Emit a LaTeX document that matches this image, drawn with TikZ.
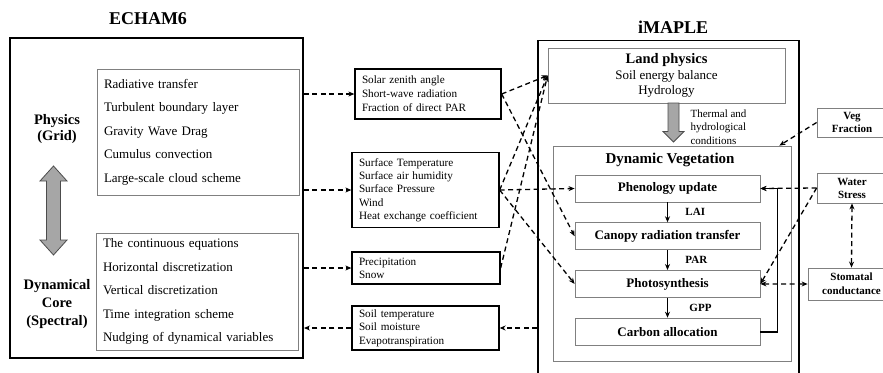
\documentclass[tikz,border=0pt]{standalone}
\usepackage{fontspec}
\setmainfont{Liberation Serif}
\usetikzlibrary{arrows.meta}

\begin{document}
\begin{tikzpicture}[x=1pt, y=-1pt, node distance=47.7pt,
	>={Stealth[length=6pt,width=5pt]},
	graybox/.style={rectangle, draw=black!50, line width=0.8pt, inner sep=0pt},
	blackbox/.style={rectangle, draw=black, line width=1.3pt, inner xsep=7pt, inner ysep=0pt},
	dashline/.style={dashed, dash pattern=on 5pt off 3.5pt, line width=1.3pt},
	bigarrow/.style={draw=black!70, fill=black!35, line width=0.8pt},
	title/.style={font=\fontsize{18}{20}\selectfont\bfseries}]
				\path [use as bounding box] (0,0) rectangle (883,372);
				\clip (0,0) rectangle (883,372);
				\node (t0) at (148,19) [title] {ECHAM6};
				\node (n0) at (156.5,198) [rectangle, draw=black, line width=1.9pt,
				minimum width=293pt, minimum height=320pt] {};
				\node (n1) at (198,132) [graybox, minimum width=202pt,
				minimum height=126pt, text width=188pt, align=left,
				font=\fontsize{13}{23.5}\selectfont] {Radiative transfer\\Turbulent
				boundary layer\\Gravity Wave Drag\\Cumulus convection\\Large-scale
				cloud scheme};
				\node (n2) at (57,129) [align=center,
				font=\fontsize{14.5}{16}\selectfont\bfseries] {Physics\\(Grid)};
				\node (n3) at (197,291.5) [graybox, minimum width=202pt,
				minimum height=117pt, text width=188pt, align=left,
				font=\fontsize{13}{23.5}\selectfont] {The continuous
				equations\\Horizontal discretization\\Vertical
				discretization\\Time integration scheme\\Nudging of dynamical
				variables};
				\node (n4) at (57,304) [align=center,
				font=\fontsize{14.5}{18}\selectfont\bfseries]
				{Dynamical\\Core\\(Spectral)};
				\draw [bigarrow] (53.5,166) -- (67,181) -- (60.5,181) -- (60.5,240)
				-- (67,240) -- (53.5,255) -- (40,240) -- (46.5,240) -- (46.5,181)
				-- (40,181) -- cycle;

				\node (n5) at (428,94) [blackbox, minimum width=146pt,
				minimum height=50pt, text width=132pt, align=left,
				font=\fontsize{11.2}{14}\selectfont] {Solar zenith angle\\Short-wave
				radiation\\Fraction of direct PAR};
				\node (n6) at (425.5,190) [blackbox, minimum width=147pt,
				minimum height=75pt, text width=133pt, align=left,
				font=\fontsize{11.2}{13.3}\selectfont] {Surface Temperature\\Surface
				air humidity\\Surface Pressure\\Wind\\Heat exchange coefficient};
				\node (n7) at (426,268) [blackbox, minimum width=148pt,
				minimum height=32pt, text width=134pt, align=left,
				font=\fontsize{11.2}{13.3}\selectfont] {Precipitation\\Snow};
				\node (n8) at (425.5,328) [blackbox, minimum width=147pt,
				minimum height=44pt, text width=133pt, align=left,
				font=\fontsize{11.2}{13.5}\selectfont] {Soil temperature\\Soil
				moisture\\Evapotranspiration};

				\node (t1) at (673,27) [title] {iMAPLE};
				\node (n9) at (668.5,215) [rectangle, draw=black, line width=1.9pt,
				minimum width=261pt, minimum height=349pt] {};
				\node (n10) at (666.5,75.5) [graybox, minimum width=237pt,
				minimum height=55pt, align=center,
				font=\fontsize{13}{15.5}\selectfont] {{\fontsize{14.5}{16}\selectfont
				\bfseries Land physics}\\Soil energy balance\\Hydrology};
				\draw [bigarrow] (668,103) -- (679,103) -- (679,131.5) -- (684,131.5)
				-- (673.5,142) -- (663,131.5) -- (668,131.5) -- cycle;
				\node (n11) at (687,127) [anchor=west, align=left,
				font=\fontsize{11}{13.5}\selectfont] {Thermal and\\hydrological\\
				conditions};
				\node (n12) at (672,253.5) [graybox, minimum width=238pt,
				minimum height=215pt] {};
				\node (n13) at (670,160) [font=\fontsize{15}{17}\selectfont\bfseries]
				{Dynamic Vegetation};
				\node (n14) at (667.5,188.5) [graybox, minimum width=185pt,
				minimum height=27pt, font=\fontsize{13}{15}\selectfont\bfseries]
				{Phenology update};
				\node (n15) [graybox, minimum width=185pt, minimum height=27pt,
				font=\fontsize{13}{15}\selectfont\bfseries, below of=n14]
				{Canopy radiation transfer};
				\node (n16) [graybox, minimum width=185pt, minimum height=27pt,
				font=\fontsize{13}{15}\selectfont\bfseries, below of=n15]
				{Photosynthesis};
				\node (n17) [graybox, minimum width=185pt, minimum height=27pt,
				font=\fontsize{13}{15}\selectfont\bfseries, below of=n16]
				{Carbon allocation};
				\draw [->, line width=1.3pt] (n14) -- (n15) node [midway, right=14pt,
				font=\fontsize{11}{13}\selectfont\bfseries] {LAI};
				\draw [->, line width=1.3pt] (n15) -- (n16) node [midway, right=14pt,
				font=\fontsize{11}{13}\selectfont\bfseries] {PAR};
				\draw [->, line width=1.3pt] (n16) -- (n17) node [midway, right=18pt,
				font=\fontsize{11}{13}\selectfont\bfseries] {GPP};
				\draw [->, line width=1.8pt] (n17.east) -- ([xshift=17pt]n17.east)
				|- (n14.east);

				\node (n18) at (852,122.5) [graybox, minimum width=70pt,
				minimum height=29pt, align=center,
				font=\fontsize{11}{12.5}\selectfont\bfseries] {Veg\\Fraction};
				\node (n19) at (852,188) [graybox, minimum width=70pt,
				minimum height=30pt, align=center,
				font=\fontsize{11}{13}\selectfont\bfseries] {Water\\Stress};
				\node (n20) at (851.5,284) [graybox, minimum width=87pt,
				minimum height=32pt, align=center,
				font=\fontsize{11}{14}\selectfont\bfseries] {Stomatal\\conductance};

				\draw [dashline, ->] (n0.east |- n5.west) -- (n5.west);
				\draw [dashline, ->] (n0.east |- n6.west) -- (n6.west);
				\draw [dashline, ->] (n0.east |- n7.west) -- (n7.west);
				\draw [dashline, ->] (n8.west) -- (n0.east |- n8.west);
				\draw [dashline, ->] (n9.west |- n8.east) -- (n8.east);
				\draw [dashline, ->] (n5.east) -- (n10.west);
				\draw [dashline, ->] (n5.east) -- (n15.west);
				\draw [dashline, ->] (n6.east) -- (n10.west);
				\draw [dashline, ->] (n6.east) -- (n14.west);
				\draw [dashline, ->] (n6.east) -- (n16.west);
				\draw [dashline, ->] (n7.east) -- (n10.west);
				\draw [dashline, ->] (n18.west) -- ([xshift=-12pt]n12.north east);
				\draw [dashline, ->] (n19.west) -- (n14.east);
				\draw [dashline, ->] (n19.west) -- (n16.east);
				\draw [dashline, <->] (n16.east) -- (n20.west);
				\draw [dashline, <->] (n19.south) -- (n20.north);
			\end{tikzpicture}
\end{document}
